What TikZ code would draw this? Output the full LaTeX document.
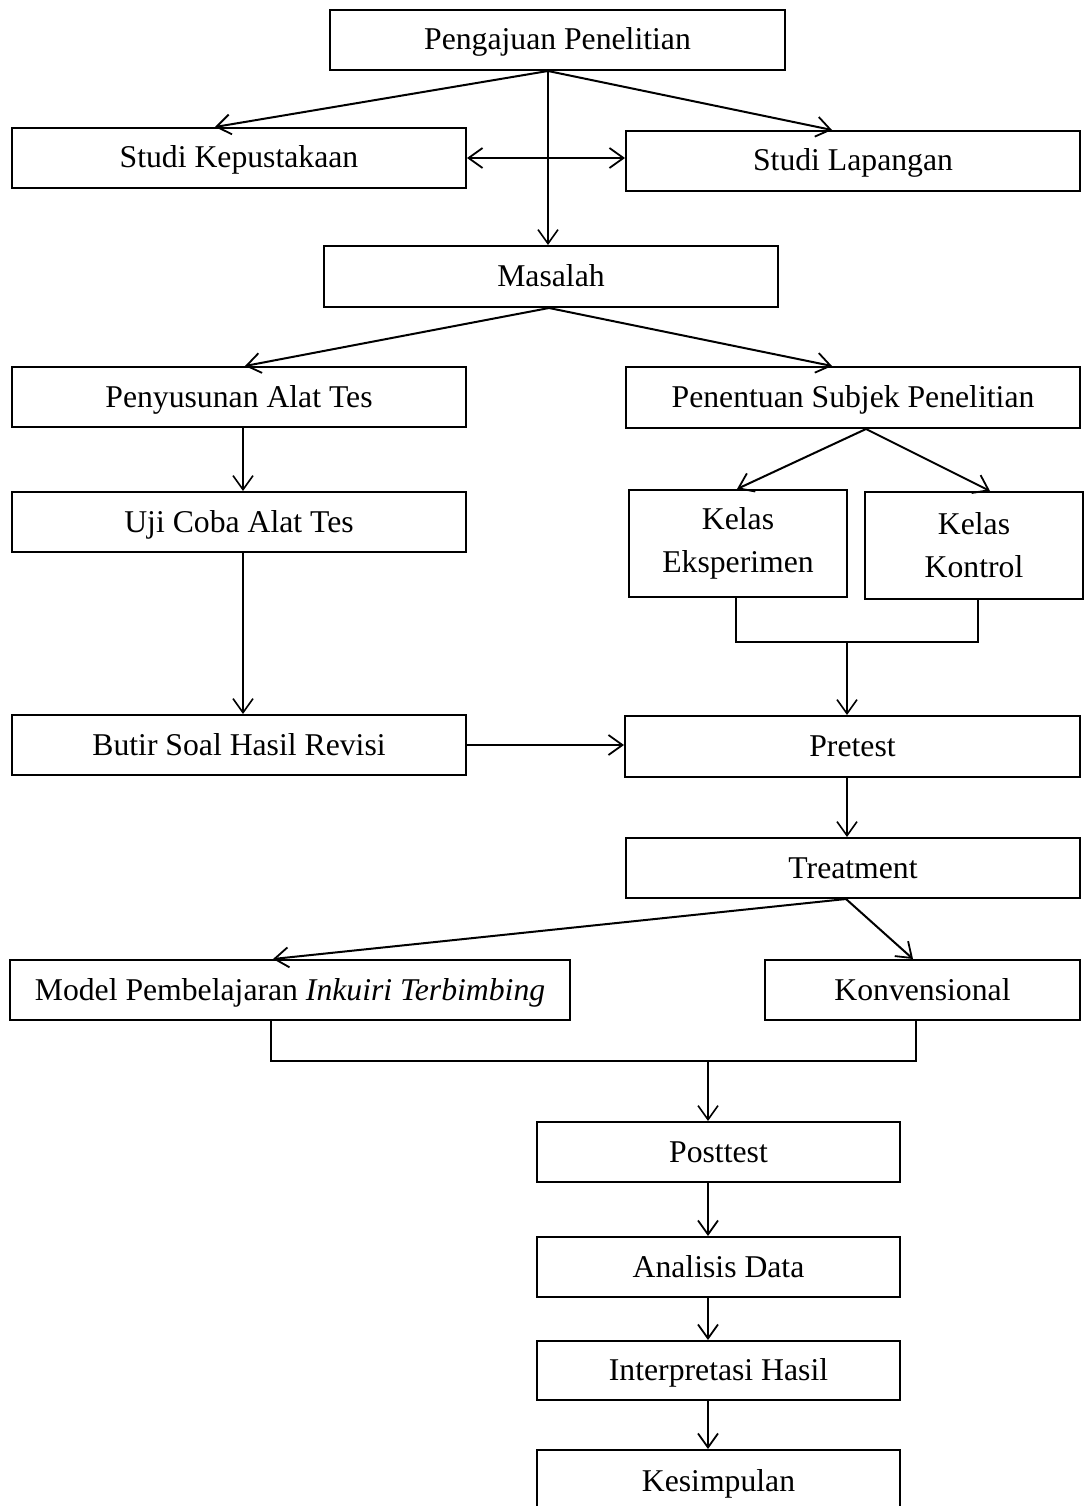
\documentclass[tikz,border=0pt]{standalone}
\usepackage{fontspec}
\setmainfont{Liberation Serif}
\usetikzlibrary{arrows.meta,calc}
\begin{document}
\begin{tikzpicture}[x=1pt,y=-1pt,
  box/.style={draw,line width=2pt,inner sep=0pt,align=center,
    font=\fontsize{31.7}{43}\selectfont},
  one/.style={box,text height=24pt,text depth=4pt},
  arr/.style={line width=2pt,-{Straight Barb[length=14pt,width=20pt,line width=1.8pt]}},
  tarr/.style={line width=1.5pt,-{Straight Barb[length=14pt,width=20pt,line width=1.6pt]}},
  arr2/.style={line width=2pt,{Straight Barb[length=14pt,width=20pt,line width=1.8pt]}-{Straight Barb[length=14pt,width=20pt,line width=1.8pt]}},
  tline/.style={line width=1.5pt}]
\useasboundingbox (0,0) rectangle (1084,1506);
\node[one,minimum width=455pt,minimum height=60pt] (pp) at (557.5,40) {Pengajuan Penelitian};
\node[one,minimum width=454pt,minimum height=60pt] (sk) at (239,158) {Studi Kepustakaan};
\node[one,minimum width=454pt,minimum height=60pt] (sl) at (853,161) {Studi Lapangan};
\node[one,minimum width=454pt,minimum height=61pt] (ms) at (551,276.5) {Masalah};
\node[one,minimum width=454pt,minimum height=60pt] (pa) at (239,397) {Penyusunan Alat Tes};
\node[one,minimum width=454pt,minimum height=61pt] (ps) at (853,397.5) {Penentuan Subjek Penelitian};
\node[one,minimum width=454pt,minimum height=60pt] (uc) at (239,522) {Uji Coba Alat Tes};
\node[box,minimum width=218pt,minimum height=107pt] (ke) at (738,543.5) {Kelas\\Eksperimen};
\node[box,minimum width=218pt,minimum height=107pt] (kk) at (974,545.5) {Kelas\\Kontrol};
\node[one,minimum width=454pt,minimum height=60pt] (bs) at (239,745) {Butir Soal Hasil Revisi};
\node[one,minimum width=455pt,minimum height=61pt] (pr) at (852.5,746.5) {Pretest};
\node[one,minimum width=454pt,minimum height=60pt] (tr) at (853,868) {Treatment};
\node[one,minimum width=560pt,minimum height=60pt] (mp) at (290,990) {Model Pembelajaran \textit{Inkuiri Terbimbing}};
\node[one,minimum width=315pt,minimum height=60pt] (kv) at (922.5,990) {Konvensional};
\node[one,minimum width=363pt,minimum height=60pt] (po) at (718.5,1152) {Posttest};
\node[one,minimum width=363pt,minimum height=60pt] (ad) at (718.5,1267) {Analisis Data};
\node[one,minimum width=363pt,minimum height=59pt] (ih) at (718.5,1370.5) {Interpretasi Hasil};
\node[one,minimum width=363pt,minimum height=62pt] (ks) at (718.5,1481) {Kesimpulan};
% top connectors
\draw[arr] ($(pp.south)+(-9.5,0)$) -- ($(sk.north)+(-24,0)$);
\draw[arr] ($(pp.south)+(-9.5,0)$) -- ($(sl.north)+(-21,0)$);
\draw[tarr] ($(pp.south)+(-9.5,0)$) -- ($(ms.north)+(-3,0)$);
\draw[arr2] (sk.east) -- (sk.east -| sl.west);
% from Masalah
\draw[arr] ($(ms.south)+(-2,0)$) -- ($(pa.north)+(6,0)$);
\draw[arr] ($(ms.south)+(-2,0)$) -- ($(ps.north)+(-21,0)$);
% left column
\draw[tarr] ($(pa.south)+(4,0)$) -- ($(uc.north)+(4,0)$);
\draw[tarr] ($(uc.south)+(4,0)$) -- ($(bs.north)+(4,0)$);
% right column
\draw[arr] ($(ps.south)+(13,0)$) -- ($(ke.north)+(-1,0)$);
\draw[arr] ($(ps.south)+(13,0)$) -- ($(kk.north)+(16,0)$);
\coordinate (j1) at ($(pr.north)+(-5.5,-73)$);
\draw[tline] ($(ke.south)+(-2,0)$) |- (j1) -| ($(kk.south)+(4,0)$);
\draw[tarr] (j1) -- ($(pr.north)+(-5.5,0)$);
\draw[arr] (bs.east) -- (bs.east -| pr.west);
\draw[tarr] ($(pr.south)+(-5.5,0)$) -- ($(tr.north)+(-6,0)$);
% treatment
\draw[arr] ($(tr.south)+(-7,0)$) -- ($(mp.north)+(-17,0)$);
\draw[arr] ($(tr.south)+(-7,0)$) -- ($(kv.north)+(-9.5,0)$);
\coordinate (j2) at ($(po.north)+(-10.5,-60)$);
\draw[tline] ($(mp.south)+(-19,0)$) |- (j2) -| ($(kv.south)+(-6.5,0)$);
\draw[tarr] (j2) -- ($(po.north)+(-10.5,0)$);
% bottom chain
\draw[arr] ($(po.south)+(-10.5,0)$) -- ($(ad.north)+(-10.5,0)$);
\draw[arr] ($(ad.south)+(-10.5,0)$) -- ($(ih.north)+(-10.5,0)$);
\draw[arr] ($(ih.south)+(-10.5,0)$) -- ($(ks.north)+(-10.5,0)$);
\end{tikzpicture}
\end{document}
